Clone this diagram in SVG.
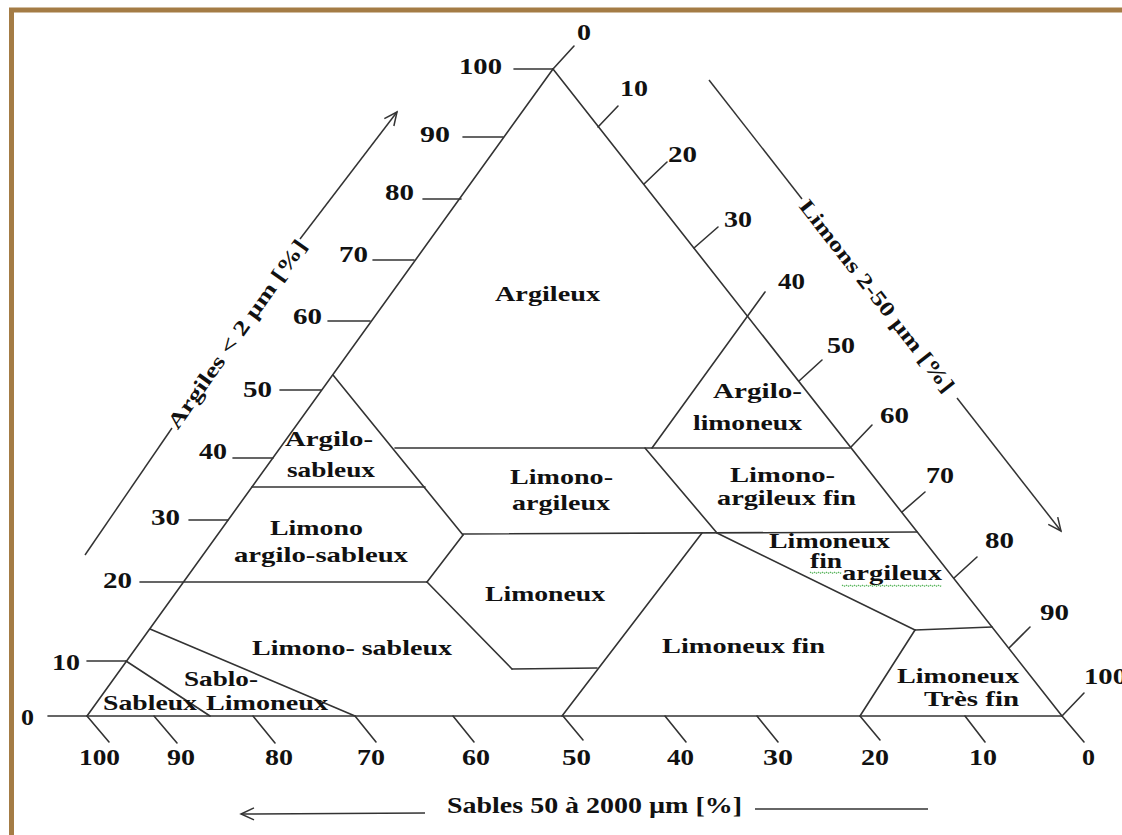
<svg xmlns="http://www.w3.org/2000/svg" width="1122" height="835" viewBox="0 0 1122 835">
<style>
.ln{stroke:#333;stroke-width:1.6;fill:none;stroke-linecap:round}
.ax{stroke:#333;stroke-width:1.5;fill:none}
.t{font-family:"Liberation Serif","Times New Roman",serif;font-weight:bold;font-size:23px;fill:#111}
.r{font-family:"Liberation Serif","Times New Roman",serif;font-weight:bold;font-size:22px;fill:#111}
.s{font-family:"Liberation Serif","Times New Roman",serif;font-weight:bold;font-size:20px;fill:#111}
.a{font-family:"Liberation Serif","Times New Roman",serif;font-weight:bold;font-size:21px;fill:#111}
.sq{stroke:#4caf50;stroke-width:1.1;fill:none;stroke-dasharray:1.5 1}
</style>
<defs>
<marker id="arr" viewBox="-14 -8 16 16" refX="0" refY="0" markerWidth="16" markerHeight="16" markerUnits="userSpaceOnUse" orient="auto">
<path d="M-13,-6 L0,0 L-13,6" fill="none" stroke="#333" stroke-width="1.5"/>
</marker>
</defs>
<rect width="1122" height="835" fill="#fff"/>
<path d="M11.5,835 V10 H1122" fill="none" stroke="#a47c45" stroke-width="5"/>

<g id="connectors">
<line class="ln" x1="87" y1="716" x2="553" y2="69"/>
<line class="ln" x1="553" y1="69" x2="1062" y2="716"/>
<line class="ln" x1="48" y1="716" x2="1062" y2="716"/>
<line class="ln" x1="514" y1="69" x2="553" y2="69"/>
<line class="ln" x1="463" y1="137" x2="503" y2="137"/>
<line class="ln" x1="423" y1="199" x2="461" y2="199"/>
<line class="ln" x1="373" y1="260" x2="414" y2="260"/>
<line class="ln" x1="328" y1="321" x2="370" y2="321"/>
<line class="ln" x1="280" y1="390" x2="321" y2="390"/>
<line class="ln" x1="233" y1="458" x2="273" y2="458"/>
<line class="ln" x1="189" y1="520" x2="228" y2="520"/>
<line class="ln" x1="140" y1="582" x2="427" y2="582"/>
<line class="ln" x1="87" y1="661" x2="126" y2="661"/>
<line class="ln" x1="553" y1="69" x2="574" y2="46"/>
<line class="ln" x1="598" y1="127" x2="618" y2="106"/>
<line class="ln" x1="644" y1="184" x2="667" y2="162"/>
<line class="ln" x1="694" y1="248" x2="718" y2="227"/>
<line class="ln" x1="652" y1="448" x2="765" y2="292"/>
<line class="ln" x1="799" y1="381" x2="822" y2="360"/>
<line class="ln" x1="851" y1="447" x2="872" y2="425"/>
<line class="ln" x1="902" y1="512" x2="925" y2="492"/>
<line class="ln" x1="954" y1="578" x2="977" y2="557"/>
<line class="ln" x1="1009" y1="648" x2="1030" y2="627"/>
<line class="ln" x1="1062" y1="716" x2="1084" y2="693"/>
<line class="ln" x1="87" y1="716" x2="109" y2="742"/>
<line class="ln" x1="154" y1="716" x2="177" y2="743"/>
<line class="ln" x1="253" y1="716" x2="275" y2="743"/>
<line class="ln" x1="355" y1="716" x2="376" y2="742"/>
<line class="ln" x1="453" y1="716" x2="474" y2="742"/>
<line class="ln" x1="563" y1="716" x2="583" y2="740"/>
<line class="ln" x1="665" y1="716" x2="686" y2="742"/>
<line class="ln" x1="757" y1="716" x2="778" y2="742"/>
<line class="ln" x1="860" y1="716" x2="880" y2="740"/>
<line class="ln" x1="965" y1="716" x2="985" y2="742"/>
<line class="ln" x1="1062" y1="716" x2="1084" y2="742"/>
<line class="ln" x1="333" y1="375" x2="463" y2="535"/>
<line class="ln" x1="395" y1="448" x2="850" y2="448"/>
<line class="ln" x1="252" y1="487" x2="425" y2="487"/>
<line class="ln" x1="463" y1="534" x2="917" y2="532"/>
<line class="ln" x1="645" y1="448" x2="717" y2="533"/>
<line class="ln" x1="717" y1="533" x2="915" y2="630"/>
<line class="ln" x1="915" y1="630" x2="992" y2="627"/>
<line class="ln" x1="915" y1="630" x2="860" y2="716"/>
<line class="ln" x1="702" y1="533" x2="562" y2="716"/>
<line class="ln" x1="463" y1="535" x2="427" y2="582"/>
<line class="ln" x1="427" y1="582" x2="512" y2="669"/>
<line class="ln" x1="512" y1="669" x2="597" y2="668"/>
<line class="ln" x1="150" y1="629" x2="355" y2="716"/>
<line class="ln" x1="126" y1="661" x2="210" y2="716"/>
<line class="ax" x1="85" y1="555" x2="172" y2="428"/>
<line class="ax" x1="300" y1="239" x2="397" y2="112" marker-end="url(#arr)"/>
<line class="ax" x1="709" y1="80" x2="802" y2="199"/>
<line class="ax" x1="957" y1="398" x2="1061" y2="531" marker-end="url(#arr)"/>
<line class="ax" x1="425" y1="813" x2="241" y2="814" marker-end="url(#arr)"/>
<line class="ax" x1="755" y1="809" x2="928" y2="809"/>
</g>

<g id="tick-labels-clay">
<text class="t" x="459" y="74" textLength="43" lengthAdjust="spacingAndGlyphs">100</text>
<text class="t" x="420" y="142" textLength="30" lengthAdjust="spacingAndGlyphs">90</text>
<text class="t" x="385" y="200" textLength="29" lengthAdjust="spacingAndGlyphs">80</text>
<text class="t" x="339" y="262" textLength="29" lengthAdjust="spacingAndGlyphs">70</text>
<text class="t" x="293" y="324" textLength="29" lengthAdjust="spacingAndGlyphs">60</text>
<text class="t" x="243" y="397" textLength="29" lengthAdjust="spacingAndGlyphs">50</text>
<text class="t" x="199" y="459" textLength="28" lengthAdjust="spacingAndGlyphs">40</text>
<text class="t" x="151" y="525" textLength="29" lengthAdjust="spacingAndGlyphs">30</text>
<text class="t" x="103" y="588" textLength="29" lengthAdjust="spacingAndGlyphs">20</text>
<text class="t" x="52" y="670" textLength="28" lengthAdjust="spacingAndGlyphs">10</text>
<text class="t" x="21" y="725" textLength="13" lengthAdjust="spacingAndGlyphs">0</text>
</g>
<g id="tick-labels-silt">
<text class="t" x="577" y="40" textLength="14" lengthAdjust="spacingAndGlyphs">0</text>
<text class="t" x="620" y="96" textLength="28" lengthAdjust="spacingAndGlyphs">10</text>
<text class="t" x="668" y="162" textLength="29" lengthAdjust="spacingAndGlyphs">20</text>
<text class="t" x="724" y="227" textLength="28" lengthAdjust="spacingAndGlyphs">30</text>
<text class="t" x="778" y="289" textLength="27" lengthAdjust="spacingAndGlyphs">40</text>
<text class="t" x="827" y="353" textLength="28" lengthAdjust="spacingAndGlyphs">50</text>
<text class="t" x="880" y="423" textLength="29" lengthAdjust="spacingAndGlyphs">60</text>
<text class="t" x="926" y="483" textLength="28" lengthAdjust="spacingAndGlyphs">70</text>
<text class="t" x="985" y="548" textLength="29" lengthAdjust="spacingAndGlyphs">80</text>
<text class="t" x="1040" y="620" textLength="29" lengthAdjust="spacingAndGlyphs">90</text>
<text class="t" x="1084" y="684" textLength="43" lengthAdjust="spacingAndGlyphs">100</text>
</g>
<g id="tick-labels-sand">
<text class="t" x="79" y="765" textLength="41" lengthAdjust="spacingAndGlyphs">100</text>
<text class="t" x="167" y="765" textLength="28" lengthAdjust="spacingAndGlyphs">90</text>
<text class="t" x="265" y="765" textLength="28" lengthAdjust="spacingAndGlyphs">80</text>
<text class="t" x="357" y="765" textLength="28" lengthAdjust="spacingAndGlyphs">70</text>
<text class="t" x="462" y="765" textLength="28" lengthAdjust="spacingAndGlyphs">60</text>
<text class="t" x="562" y="765" textLength="29" lengthAdjust="spacingAndGlyphs">50</text>
<text class="t" x="667" y="765" textLength="27" lengthAdjust="spacingAndGlyphs">40</text>
<text class="t" x="763" y="765" textLength="30" lengthAdjust="spacingAndGlyphs">30</text>
<text class="t" x="861" y="765" textLength="28" lengthAdjust="spacingAndGlyphs">20</text>
<text class="t" x="969" y="765" textLength="28" lengthAdjust="spacingAndGlyphs">10</text>
<text class="t" x="1082" y="765" textLength="13" lengthAdjust="spacingAndGlyphs">0</text>
</g>

<g id="axis-argiles" transform="translate(237,334) rotate(-54.84)">
<text class="a" x="0" y="7" text-anchor="middle" textLength="226" lengthAdjust="spacingAndGlyphs">Argiles &lt; 2 µm [%]</text>
</g>
<g id="axis-limons" transform="translate(877,296) rotate(52.03)">
<text class="a" x="0" y="7" text-anchor="middle" textLength="238" lengthAdjust="spacingAndGlyphs">Limons 2-50 µm [%]</text>
</g>
<g id="axis-sables">
<text class="t" x="447" y="813" textLength="295" lengthAdjust="spacingAndGlyphs">Sables 50 à 2000 µm [%]</text>
</g>

<g id="argileux"><text class="r" x="495" y="301" textLength="105" lengthAdjust="spacingAndGlyphs">Argileux</text></g>
<g id="argilo-sableux">
<text class="r" x="285" y="446" textLength="88" lengthAdjust="spacingAndGlyphs">Argilo-</text>
<text class="r" x="287" y="477" textLength="88" lengthAdjust="spacingAndGlyphs">sableux</text>
</g>
<g id="limono-argilo-sableux">
<text class="r" x="270" y="535" textLength="93" lengthAdjust="spacingAndGlyphs">Limono</text>
<text class="r" x="234" y="562" textLength="174" lengthAdjust="spacingAndGlyphs">argilo-sableux</text>
</g>
<g id="limono-argileux">
<text class="r" x="510" y="484" textLength="103" lengthAdjust="spacingAndGlyphs">Limono-</text>
<text class="r" x="512" y="510" textLength="98" lengthAdjust="spacingAndGlyphs">argileux</text>
</g>
<g id="argilo-limoneux">
<text class="r" x="713" y="398" textLength="89" lengthAdjust="spacingAndGlyphs">Argilo-</text>
<text class="r" x="693" y="430" textLength="109" lengthAdjust="spacingAndGlyphs">limoneux</text>
</g>
<g id="limono-argileux-fin">
<text class="r" x="730" y="482" textLength="105" lengthAdjust="spacingAndGlyphs">Limono-</text>
<text class="r" x="717" y="505" textLength="139" lengthAdjust="spacingAndGlyphs">argileux fin</text>
</g>
<g id="limoneux-fin-argileux">
<text class="s" x="769" y="548" textLength="121" lengthAdjust="spacingAndGlyphs">Limoneux</text>
<text class="s" x="810" y="568" textLength="32" lengthAdjust="spacingAndGlyphs">fin</text>
<text class="s" x="842" y="580" textLength="100" lengthAdjust="spacingAndGlyphs">argileux</text>
<path class="sq" d="M810,572 l2,1.5 l2,-1.5 l2,1.5 l2,-1.5 l2,1.5 l2,-1.5 l2,1.5 l2,-1.5 l2,1.5 l2,-1.5 l2,1.5 l2,-1.5 l2,1.5 l2,-1.5 l2,1.5 l2,-1.5"/>
<path class="sq" d="M842,585 l2,1.5 l2,-1.5 l2,1.5 l2,-1.5 l2,1.5 l2,-1.5 l2,1.5 l2,-1.5 l2,1.5 l2,-1.5 l2,1.5 l2,-1.5 l2,1.5 l2,-1.5 l2,1.5 l2,-1.5 l2,1.5 l2,-1.5 l2,1.5 l2,-1.5 l2,1.5 l2,-1.5 l2,1.5 l2,-1.5 l2,1.5 l2,-1.5 l2,1.5 l2,-1.5 l2,1.5 l2,-1.5 l2,1.5 l2,-1.5 l2,1.5 l2,-1.5 l2,1.5 l2,-1.5 l2,1.5 l2,-1.5 l2,1.5 l2,-1.5 l2,1.5 l2,-1.5 l2,1.5 l2,-1.5 l2,1.5 l2,-1.5 l2,1.5 l2,-1.5 l2,1.5 l2,-1.5"/>
</g>
<g id="limoneux"><text class="r" x="485" y="601" textLength="120" lengthAdjust="spacingAndGlyphs">Limoneux</text></g>
<g id="limono-sableux"><text class="r" x="252" y="655" textLength="200" lengthAdjust="spacingAndGlyphs">Limono- sableux</text></g>
<g id="limoneux-fin"><text class="r" x="662" y="653" textLength="163" lengthAdjust="spacingAndGlyphs">Limoneux fin</text></g>
<g id="sablo-limoneux">
<text class="r" x="184" y="686" textLength="74" lengthAdjust="spacingAndGlyphs">Sablo-</text>
<text class="r" x="206" y="710" textLength="122" lengthAdjust="spacingAndGlyphs">Limoneux</text>
</g>
<g id="sableux"><text class="r" x="103" y="710" textLength="94" lengthAdjust="spacingAndGlyphs">Sableux</text></g>
<g id="limoneux-tres-fin">
<text class="r" x="897" y="683" textLength="122" lengthAdjust="spacingAndGlyphs">Limoneux</text>
<text class="r" x="924" y="706" textLength="95" lengthAdjust="spacingAndGlyphs">Très fin</text>
</g>
</svg>
